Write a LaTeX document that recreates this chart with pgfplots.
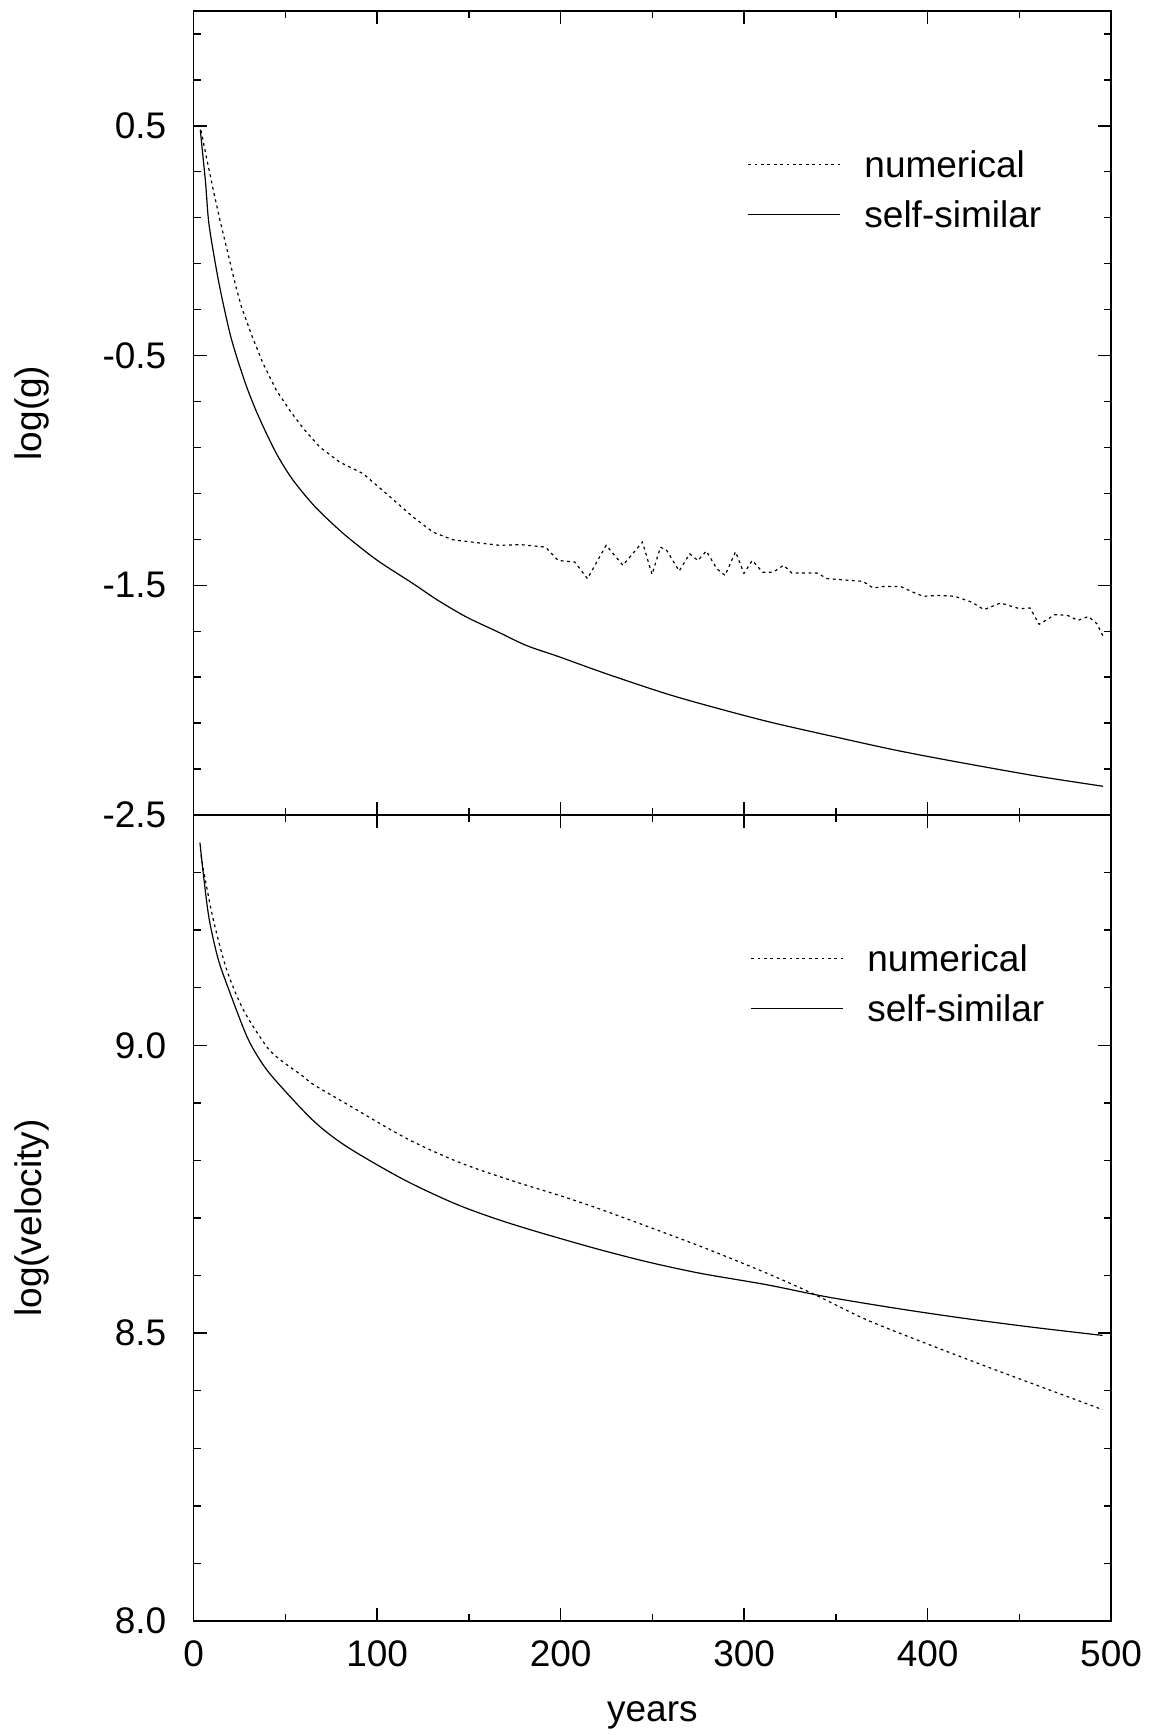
\documentclass[border=0pt]{standalone}
\usepackage{pgfplots}
\pgfplotsset{compat=1.18}
\usepackage{fontspec}
\setmainfont{Liberation Sans}
\newcommand\lbl{\fontsize{18.5bp}{22bp}\selectfont}
\pgfplotsset{
  num/.style={black, line width=0.6bp, dash pattern=on 1.4bp off 1.8bp},
  ss/.style={black, line width=0.6bp},
  panel/.style={
    scale only axis,
    width=458.7bp,
    xmin=0, xmax=500,
    tick align=inside,
    tick pos=both,
    xtick={0,100,200,300,400,500},
    minor xtick={50,150,250,350,450},
    major tick length=6.7bp,
    minor tick length=3.6bp,
    axis line style={line width=0.8bp},
    every tick/.style={line width=0.7bp, black},
    tick label style={font=\lbl},
    label style={font=\lbl},
    yticklabel style={anchor=east, inner sep=0pt, xshift=-13.5bp},
    xticklabel style={anchor=base, inner sep=0pt, yshift=-22.85bp},
    ylabel style={at={(axis description cs:-0.1657,0.5)}, anchor=base},
    legend style={draw=none, fill=none, font=\lbl, inner sep=0pt,
      row sep=11.75bp, column sep=12bp,
      nodes={inner sep=0pt, text height=13.25bp, text depth=0pt}},
    legend cell align=left,
    legend image code/.code={\draw[##1] (0bp,0bp) -- (45.8bp,0bp);},
  },
}
\begin{document}
\begin{tikzpicture}
\useasboundingbox (-96.85bp,-57bp) rectangle (479.15bp,810.5bp);
% top panel
\begin{axis}[panel,
  at={(0bp,403bp)}, anchor=south west,
  height=402bp,
  ymin=-2.5, ymax=1.0,
  ytick={-2.5,-1.5,-0.5,0.5},
  yticklabels={-2.5,-1.5,-0.5,0.5},
  minor ytick={-2.3,-2.1,-1.9,-1.7,-1.3,-1.1,-0.9,-0.7,-0.3,-0.1,0.1,0.3,0.7,0.9},
  xticklabels={},
  ylabel={log(g)},
  legend style={at={(axis cs:301.7,0.223)}, anchor=west},
]
\addplot[num] coordinates {
(4,0.48) (7,0.36) (10.7,0.22) (14,0.10) (17.9,-0.03) (23,-0.20) (26.1,-0.29)
(32,-0.42) (37.9,-0.536) (45,-0.65) (52.4,-0.739) (60,-0.82) (68.8,-0.899)
(79.6,-0.964) (92.3,-1.014) (105,-1.101) (119.6,-1.203) (130.5,-1.269)
(141.3,-1.302) (155.9,-1.316) (166.7,-1.326) (178.1,-1.323) (191.8,-1.334)
(198.6,-1.392) (207.7,-1.399) (214.6,-1.471) (224.8,-1.326) (233.9,-1.413)
(244.6,-1.312) (249.8,-1.453) (254.4,-1.334) (257.8,-1.348) (264.6,-1.438)
(270.3,-1.363) (274.8,-1.392) (279.4,-1.351) (285.1,-1.428) (289.6,-1.457)
(295.3,-1.354) (299.9,-1.448) (304.4,-1.392) (310.1,-1.443) (315.8,-1.443)
(321.5,-1.413) (326,-1.447) (339.7,-1.447) (345.3,-1.471) (353.3,-1.476)
(364.7,-1.483) (370.4,-1.512) (376.1,-1.505) (385.2,-1.505) (392,-1.530)
(397.7,-1.548) (405.7,-1.544) (414.8,-1.548) (423.9,-1.573) (430.7,-1.606)
(439.8,-1.577) (450.1,-1.602) (455.8,-1.599) (460.8,-1.670) (469.4,-1.628)
(476.2,-1.631) (481.9,-1.653) (487.6,-1.636) (492.2,-1.667) (496.3,-1.732)
};
\addlegendentry{numerical}
\addplot[ss, smooth, tension=0.5] coordinates {
(3.6,0.483) (5,0.37) (6.5,0.25) (8.2,0.08) (11.6,-0.09) (14.9,-0.23)
(19.8,-0.405) (24,-0.52) (28.9,-0.637) (34,-0.74) (39.7,-0.840) (46,-0.94)
(54.2,-1.043) (66,-1.157) (79.6,-1.261) (90,-1.33) (101.4,-1.399)
(119.6,-1.493) (133,-1.565) (148.6,-1.638) (165,-1.70) (181.3,-1.762)
(199.4,-1.812) (224.8,-1.885) (257.5,-1.972) (282.9,-2.030) (313.8,-2.095)
(350.1,-2.161) (382.7,-2.218) (415.4,-2.268) (459,-2.330) (495.6,-2.375)
};
\addlegendentry{self-similar}
\end{axis}
% bottom panel
\begin{axis}[panel,
  at={(0bp,0bp)}, anchor=south west,
  height=403bp,
  ymin=8.0, ymax=9.4,
  ytick={8.0,8.5,9.0},
  yticklabels={8.0,8.5,9.0},
  minor ytick={8.1,8.2,8.3,8.4,8.6,8.7,8.8,8.9,9.1,9.2,9.3},
  xticklabels={0,100,200,300,400,500},
  xlabel={years},
  xlabel style={at={(axis description cs:0.5,0)}, anchor=base, yshift=-50.35bp},
  ylabel={log(velocity)},
  legend style={at={(axis cs:303.3,9.108)}, anchor=west},
]
\addplot[num, smooth, tension=0.5] coordinates {
(4,9.33) (5.6,9.30) (10.7,9.218) (17.9,9.132) (27,9.062) (39.7,8.998)
(47.1,8.975) (58.8,8.948) (65.2,8.932) (83.4,8.898) (116.1,8.838)
(145.2,8.796) (174.3,8.764) (203.4,8.735) (228.8,8.707) (276,8.651)
(312.4,8.604) (337.8,8.568) (366.9,8.523) (403.3,8.477) (439.6,8.433)
(476,8.390) (495.4,8.367)
};
\addlegendentry{numerical}
\addplot[ss, smooth, tension=0.5] coordinates {
(3.4,9.352) (5.6,9.288) (8.5,9.218) (13.4,9.149) (19.8,9.091) (28.9,9.016)
(36,8.975) (44.3,8.940) (65.2,8.869) (83.4,8.824) (114.3,8.767)
(141.6,8.726) (163.4,8.700) (185.2,8.678) (217.9,8.648) (247,8.624)
(276,8.604) (312.4,8.584) (345.1,8.563) (385.1,8.542) (421.5,8.525)
(457.8,8.510) (495.4,8.496)
};
\addlegendentry{self-similar}
\end{axis}
\end{tikzpicture}
\end{document}
